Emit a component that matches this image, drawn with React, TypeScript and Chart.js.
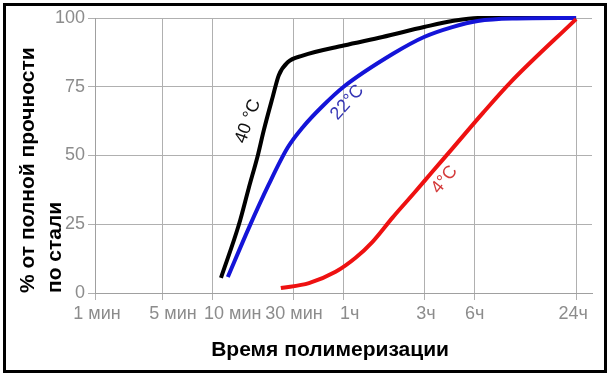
import React, { useEffect, useRef } from "react";
import { Chart, registerables } from "chart.js";

Chart.register(...registerables);

// Time axis (minutes). The first tick is drawn compressed, as in the original chart.
const tickPositions = [2, 5, 10, 30, 60, 180, 360, 1440];
const tickLabels = ["1 мин", "5 мин", "10 мин", "30 мин", "1ч", "3ч", "6ч", "24ч"];
const yTicks = [0, 25, 50, 75, 100];

// 40 °C
const time40 = [11.2, 14.3, 16.4, 18.6, 20.1, 22.7, 24.7, 27.9, 34.2, 60, 102, 180, 265, 375, 1440];
const strength40 = [5.5, 24.8, 38.3, 50.4, 59.1, 71.2, 79.2, 83.9, 86.3, 90, 93.1, 96.7, 98.9, 100, 100];

// 22 °C
const time22 = [12.3, 16.4, 21.5, 27.9, 34.2, 45, 60, 117, 180, 265, 375, 600, 1440];
const strength22 = [5.8, 23.7, 39.4, 52.9, 60.2, 68, 75, 86.9, 93.1, 96.7, 98.9, 99.8, 100];

// 4 °C
const time4 = [25.4, 37.3, 53.7, 70.6, 89, 117, 160, 201, 265, 403, 587, 1440];
const strength4 = [1.8, 3.6, 7.7, 12.8, 18.6, 27.4, 36.9, 44, 52.5, 65.5, 76.6, 99.6];

const curveLabels = [
  { text: "40 °C", t: 16.2, v: 62.4, angle: -70, color: "#111111" },
  { text: "22°C", t: 63, v: 69.3, angle: -48, color: "#3535b5" },
  { text: "4°C", t: 238, v: 41.2, angle: -51, color: "#d43a3a" },
];

const xTitle = "Время полимеризации";
const yTitle = ["% от полной прочности", "по стали"];

// label placement tweaks (px), as in the original figure
const tickLabelShift = [2, 11, 20, 1, 6, 2, 0, -3];

const FONT = "'Liberation Sans', Arial, sans-serif";

const toPoints = (xs: number[], ys: number[]) => xs.map((x, i) => ({ x, y: ys[i] }));

const overlayPlugin = {
  id: "overlay",
  afterDatasetsDraw(chart: any) {
    const { ctx, scales, chartArea } = chart;
    ctx.save();
    ctx.font = `18px ${FONT}`;
    ctx.textAlign = "center";
    ctx.textBaseline = "middle";
    for (const l of curveLabels) {
      const px = scales.x.getPixelForValue(l.t);
      const py = scales.y.getPixelForValue(l.v);
      ctx.save();
      ctx.translate(px, py);
      ctx.rotate((l.angle * Math.PI) / 180);
      ctx.fillStyle = l.color;
      ctx.fillText(l.text, 0, 0);
      ctx.restore();
    }
    // x tick labels
    ctx.fillStyle = "#8c8c8c";
    ctx.font = `18px ${FONT}`;
    tickPositions.forEach((v, i) => {
      const px = scales.x.getPixelForValue(v) + tickLabelShift[i];
      ctx.fillText(tickLabels[i], px, chartArea.bottom + 21);
    });
    // x title
    ctx.fillStyle = "#000";
    ctx.font = `bold 21px ${FONT}`;
    ctx.fillText(
      xTitle,
      chartArea.left + (chartArea.right - chartArea.left) * 0.473,
      chartArea.bottom + 57
    );
    ctx.restore();
  },
};

export default function App() {
  const ref = useRef<HTMLCanvasElement>(null);
  useEffect(() => {
    document.body.style.margin = "0";
    if (!ref.current) return;
    const ds = (data: any, color: string) => ({
      data,
      borderColor: color,
      backgroundColor: color,
      borderWidth: 4,
      pointRadius: 0,
      cubicInterpolationMode: "monotone" as const,
      clip: 6,
    });
    const chart = new Chart(ref.current, {
      type: "line",
      data: {
        datasets: [
          ds(toPoints(time4, strength4), "#ee1111"),
          ds(toPoints(time22, strength22), "#1414d8"),
          ds(toPoints(time40, strength40), "#000000"),
        ],
      },
      options: {
        animation: false,
        responsive: false,
        layout: { padding: { top: 18, right: 18, left: 0, bottom: 0 } },
        plugins: { legend: { display: false }, tooltip: { enabled: false } },
        scales: {
          x: {
            type: "logarithmic",
            min: 2,
            max: 1790,
            afterBuildTicks: (scale: any) => {
              scale.ticks = tickPositions.map((v) => ({ value: v }));
            },
            afterFit: (scale: any) => {
              scale.height = 82;
            },
            ticks: { display: false, autoSkip: false, maxRotation: 0 },
            grid: { color: "#b0b0b0", lineWidth: 1, tickLength: 7 },
            border: { color: "#a0a0a0" },
          },
          y: {
            min: 0,
            max: 100,
            afterBuildTicks: (scale: any) => {
              scale.ticks = yTicks.map((v) => ({ value: v }));
            },
            afterFit: (scale: any) => {
              scale.width = 95;
            },
            ticks: {
              color: "#8c8c8c",
              font: { family: FONT, size: 18 },
              padding: 3,
            },
            grid: { color: "#b0b0b0", lineWidth: 1, tickLength: 7 },
            border: { color: "#a0a0a0" },
            title: {
              display: true,
              text: yTitle,
              align: "start",
              color: "#000",
              font: { family: FONT, size: 21, weight: "bold", lineHeight: 1.29 },
              padding: { top: 14.5, bottom: 0 },
            },
          },
        },
      },
      plugins: [overlayPlugin],
    } as any);
    return () => chart.destroy();
  }, []);
  return (
    <div style={{ position: "relative", width: 610, height: 375, background: "#fff" }}>
      <canvas ref={ref} width={610} height={375} style={{ display: "block" }} />
      <div
        style={{
          position: "absolute",
          left: 3,
          top: 3,
          width: 604,
          height: 370,
          border: "3px solid #000",
          boxSizing: "border-box",
          pointerEvents: "none",
        }}
      />
    </div>
  );
}
